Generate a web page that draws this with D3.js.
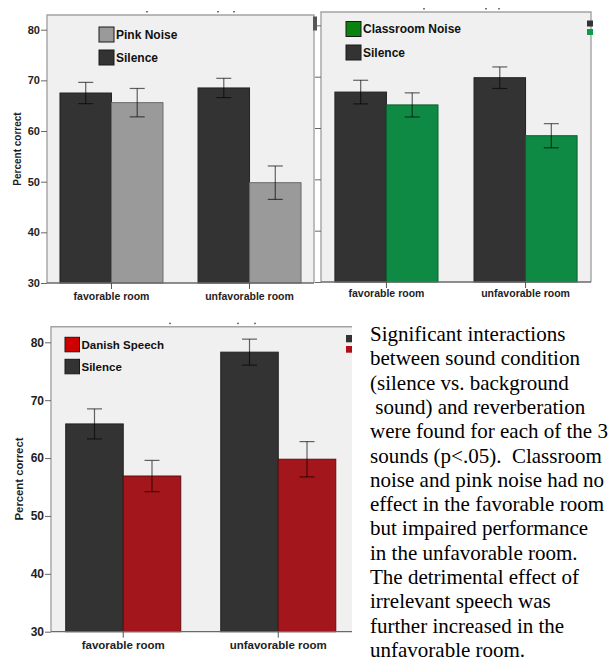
<!DOCTYPE html>
<html>
<head>
<meta charset="utf-8">
<script src="https://cdn.jsdelivr.net/npm/d3@7"></script>
<style>
  body { margin: 0; background: #fff; }
  svg { display: block; }
  .tick text { font-family: "Liberation Sans", Arial, sans-serif; font-weight: bold; fill: #1e1e1e; }
</style>
</head>
<body>
<svg id="chart" width="608" height="661"></svg>
<script>
// values (percent correct, mean and error bar half-width)
const rooms = ['favorable room', 'unfavorable room']
const yTicks = [30, 40, 50, 60, 70, 80]

const pinkSilence = [67.5, 68.5]
const pinkSilenceErr = [2.1, 1.9]
const pinkNoise = [65.6, 49.8]
const pinkNoiseErr = [2.8, 3.3]

const classSilence = [67.0, 69.8]
const classSilenceErr = [2.3, 2.1]
const classNoise = [64.5, 58.5]
const classNoiseErr = [2.35, 2.35]

const danishSilence = [65.9, 78.3]
const danishSilenceErr = [2.6, 2.25]
const danishNoise = [56.9, 59.8]
const danishNoiseErr = [2.7, 3.05]

const summary = [
  'Significant interactions',
  'between sound condition',
  '(silence vs. background',
  ' sound) and reverberation',
  'were found for each of the 3',
  'sounds (p<.05).  Classroom',
  'noise and pink noise had no',
  'effect in the favorable room',
  'but impaired performance',
  'in the unfavorable room.',
  'The detrimental effect of',
  'irrelevant speech was',
  'further increased in the',
  'unfavorable room.'
]

const silenceColour = '#333333'
const sans = '"Liberation Sans", Arial, sans-serif'

let svg = d3.select('#chart')

function drawPanel(p) {
  let g = svg.append('g')

  let y = d3.scaleLinear()
      .domain([30, p.yMax])
      .range([p.y1, p.y0])

  let x = d3.scaleBand()
      .domain(rooms)
      .range([p.x0, p.x1])
      .paddingInner(p.padInner)
      .paddingOuter(p.padOuter)

  let sub = d3.scaleBand()
      .domain(['silence', 'noise'])
      .range([0, x.bandwidth()])

  // plot background
  g.append('rect')
      .attr('x', p.x0)
      .attr('y', p.y0)
      .attr('width', p.bgRight - p.x0)
      .attr('height', p.y1 - p.y0)
      .attr('fill', '#f0f0f0')

  let frame = g.append('path')
      .attr('fill', 'none')
      .attr('stroke', '#a3a3a3')
      .attr('stroke-width', 1.4)
  if (p.rightBorder) {
    frame.attr('d', `M${p.x0},${p.y1}V${p.y0}H${p.x1}V${p.y1}`)
  } else {
    frame.attr('d', `M${p.x0},${p.y1}V${p.y0}H${p.bgRight}`)
  }

  // bars
  let rows = rooms.map((r, i) => [
    {room: r, key: 'silence', value: p.silence[i], err: p.silenceErr[i], fill: silenceColour, stroke: '#222'},
    {room: r, key: 'noise', value: p.noise[i], err: p.noiseErr[i], fill: p.barColour, stroke: p.barStroke}
  ]).flat()

  g.selectAll('.bar')
      .data(rows)
    .enter().append('rect')
      .attr('class', 'bar')
      .attr('x', d => x(d.room) + sub(d.key))
      .attr('y', d => y(d.value))
      .attr('width', sub.bandwidth())
      .attr('height', d => y(30) - y(d.value))
      .attr('fill', d => d.fill)
      .attr('stroke', d => d.stroke)
      .attr('stroke-width', 1)

  // error bars
  let cap = 7.5
  let eb = g.selectAll('.err')
      .data(rows)
    .enter().append('g')
      .attr('class', 'err')
      .attr('stroke', '#000')
      .attr('stroke-opacity', 0.6)
      .attr('stroke-width', 1.2)
  eb.append('line')
      .attr('x1', d => x(d.room) + sub(d.key) + sub.bandwidth() / 2)
      .attr('x2', d => x(d.room) + sub(d.key) + sub.bandwidth() / 2)
      .attr('y1', d => y(d.value + d.err))
      .attr('y2', d => y(d.value - d.err))
  eb.append('line')
      .attr('x1', d => x(d.room) + sub(d.key) + sub.bandwidth() / 2 - cap)
      .attr('x2', d => x(d.room) + sub(d.key) + sub.bandwidth() / 2 + cap)
      .attr('y1', d => y(d.value + d.err))
      .attr('y2', d => y(d.value + d.err))
  eb.append('line')
      .attr('x1', d => x(d.room) + sub(d.key) + sub.bandwidth() / 2 - cap)
      .attr('x2', d => x(d.room) + sub(d.key) + sub.bandwidth() / 2 + cap)
      .attr('y1', d => y(d.value - d.err))
      .attr('y2', d => y(d.value - d.err))

  // axes
  let yAxis = g.append('g')
      .attr('transform', 'translate(' + p.x0 + ',0)')
      .call(d3.axisLeft(y).tickValues(yTicks).tickSize(6).tickPadding(1)
        .tickFormat(p.tickLabels ? d3.format('d') : ''))
  yAxis.select('.domain').remove()
  yAxis.selectAll('line').attr('stroke', '#666')
  yAxis.selectAll('text').style('font-size', p.tickFont + 'px')

  let xAxis = g.append('g')
      .attr('transform', 'translate(0,' + p.y1 + ')')
      .call(d3.axisBottom(x).tickSize(6).tickSizeOuter(0).tickPadding(p.labelPad))
  xAxis.select('.domain')
      .attr('d', `M${p.x0},0H${p.bgRight}`)
      .attr('stroke', '#6a6a6a')
      .attr('stroke-width', 1.3)
  xAxis.selectAll('line').attr('stroke', '#555')
  xAxis.selectAll('text').style('font-size', p.labelFont + 'px')

  if (p.tickLabels) {
    g.append('text')
        .attr('transform', `translate(${p.titleX},${p.titleY}) rotate(-90)`)
        .attr('text-anchor', 'middle')
        .style('font-family', sans)
        .style('font-weight', 'bold')
        .style('font-size', p.titleFont + 'px')
        .attr('fill', '#1e1e1e')
        .text('Percent correct')
  }

  // legend
  let legend = [
    {name: p.noiseName, fill: p.swatchColour},
    {name: 'Silence', fill: silenceColour}
  ]
  let lg = g.selectAll('.legend')
      .data(legend)
    .enter().append('g')
      .attr('class', 'legend')
      .attr('transform', (d, i) => `translate(${p.legendX},${p.legendY + i * p.legendStep})`)
  lg.append('rect')
      .attr('width', p.swatch)
      .attr('height', p.swatch)
      .attr('fill', d => d.fill)
      .attr('stroke', '#1a1a1a')
      .attr('stroke-width', 1)
  lg.append('text')
      .attr('x', p.swatch + 2)
      .attr('y', p.swatch / 2 + p.legendFont * 0.36)
      .style('font-family', sans)
      .style('font-weight', 'bold')
      .style('font-size', p.legendFont + 'px')
      .attr('fill', '#111')
      .text(d => d.name)

  // clipped legend keys at the right edge
  g.selectAll('.stub')
      .data(p.stubs)
    .enter().append('rect')
      .attr('class', 'stub')
      .attr('x', d => d[0])
      .attr('y', d => d[1])
      .attr('width', d => d[2])
      .attr('height', d => d[3])
      .attr('fill', d => d[4])

  // cut-off title remnants
  g.selectAll('.crumb')
      .data(p.crumbs)
    .enter().append('rect')
      .attr('class', 'crumb')
      .attr('x', d => d)
      .attr('y', p.y0 - 4)
      .attr('width', 2)
      .attr('height', 1.5)
      .attr('fill', '#777')
}

// classroom noise (drawn first, partly hidden behind the pink noise panel)
drawPanel({
  x0: 321, x1: 591, y0: 12, y1: 282, bgRight: 591, yMax: 82.6,
  padInner: 0.259, padOuter: 0.1, rightBorder: true,
  silence: classSilence, silenceErr: classSilenceErr,
  noise: classNoise, noiseErr: classNoiseErr,
  barColour: '#0f8a45', barStroke: '#0b5f30', swatchColour: '#0a820f',
  noiseName: 'Classroom Noise',
  tickLabels: false, tickFont: 11, labelFont: 10.5, labelPad: 2,
  legendX: 346, legendY: 21.5, legendStep: 23.5, swatch: 15, legendFont: 12,
  stubs: [[587, 20.5, 6, 6, '#333'], [587, 29, 6, 6, '#0f9a4c']],
  crumbs: [423, 485, 498]
})

// pink noise
drawPanel({
  x0: 47, x1: 314, y0: 15, y1: 283, bgRight: 314, yMax: 82.9,
  padInner: 0.254, padOuter: 0.094, rightBorder: true,
  silence: pinkSilence, silenceErr: pinkSilenceErr,
  noise: pinkNoise, noiseErr: pinkNoiseErr,
  barColour: '#9a9a9a', barStroke: '#6a6a6a', swatchColour: '#9a9a9a',
  noiseName: 'Pink Noise',
  tickLabels: true, tickFont: 11, labelFont: 10.5, labelPad: 4,
  titleX: 21, titleY: 149, titleFont: 10,
  legendX: 99, legendY: 27, legendStep: 23, swatch: 15, legendFont: 12,
  stubs: [[313, 16.5, 4, 14, '#555']],
  crumbs: [146, 217, 233]
})

// danish speech
drawPanel({
  x0: 51, x1: 350.5, y0: 326.7, y1: 631.7, bgRight: 352, yMax: 82.7,
  padInner: 0.258, padOuter: 0.095, rightBorder: false,
  silence: danishSilence, silenceErr: danishSilenceErr,
  noise: danishNoise, noiseErr: danishNoiseErr,
  barColour: '#a3161c', barStroke: '#5e0d10', swatchColour: '#d00000',
  noiseName: 'Danish Speech',
  tickLabels: true, tickFont: 12, labelFont: 11.5, labelPad: 3.5,
  titleX: 23, titleY: 479, titleFont: 11.3,
  legendX: 65, legendY: 337.3, legendStep: 22, swatch: 14.5, legendFont: 11.5,
  stubs: [[346, 335, 6, 7.3, '#333'], [346, 346, 6, 6.7, '#b00d15']],
  crumbs: [169, 237, 254]
})

// commentary
svg.append('text')
    .attr('x', 370)
    .style('font-family', '"Liberation Serif", "Times New Roman", serif')
    .style('font-size', '21px')
    .style('white-space', 'pre')
    .attr('fill', '#000')
  .selectAll('tspan')
    .data(summary)
  .enter().append('tspan')
    .attr('x', 370)
    .attr('y', (d, i) => 341 + i * 24.3)
    .text(d => d)
</script>
</body>
</html>
